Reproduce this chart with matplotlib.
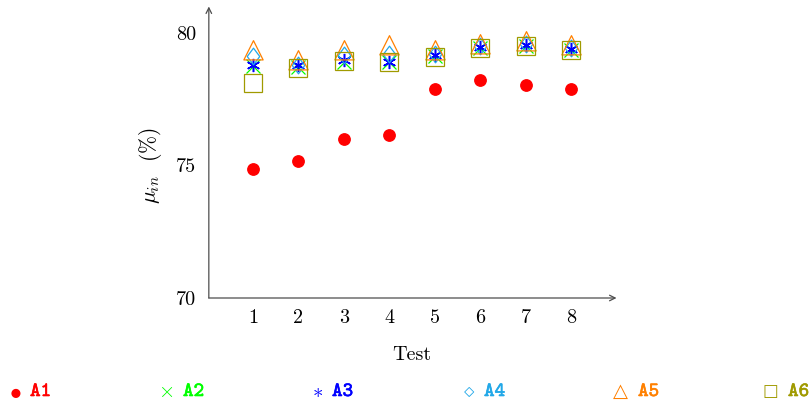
import matplotlib
matplotlib.use("Agg")
import matplotlib.pyplot as plt
import matplotlib.patheffects as pe
from matplotlib.path import Path
import numpy as np

tests = [1, 2, 3, 4, 5, 6, 7, 8]
A1 = [74.87, 75.18, 75.99, 76.14, 77.88, 78.21, 78.02, 77.88]
A2 = [78.75, 78.72, 78.92, 78.90, 79.12, 79.43, 79.52, 79.36]
A3 = [78.78, 78.78, 78.98, 78.92, 79.16, 79.48, 79.55, 79.40]
A4 = [79.15, 78.80, 79.16, 79.22, 79.20, 79.50, 79.58, 79.42]
A5 = [79.25, 78.88, 79.26, 79.42, 79.23, 79.48, 79.57, 79.45]
A6 = [78.12, 78.69, 78.96, 78.89, 79.10, 79.44, 79.52, 79.37]
series_names = ["A1", "A2", "A3", "A4", "A5", "A6"]
xticks = [1, 2, 3, 4, 5, 6, 7, 8]
yticks = [70, 75, 80]

plt.rcParams['mathtext.fontset'] = 'cm'
plt.rcParams['font.family'] = ['cmr10', 'DejaVu Serif']
plt.rcParams['axes.formatter.use_mathtext'] = True

c_red = '#ff0000'
c_green = '#00ff00'
c_blue = '#0000ff'
c_cyan = '#22a8e8'
c_orange = '#ff8000'
c_olive = '#a09a00'

tri = Path([(0, 2/3), (-0.5, -1/3), (0.5, -1/3), (0, 2/3)],
           [Path.MOVETO, Path.LINETO, Path.LINETO, Path.CLOSEPOLY])
dia = Path([(0, 1), (0.75, 0), (0, -1), (-0.75, 0), (0, 1)],
           [Path.MOVETO, Path.LINETO, Path.LINETO, Path.LINETO, Path.CLOSEPOLY])

fig = plt.figure(figsize=(8.11, 4.08), dpi=100)
W, H = 811, 408
x0px, x9px = 207.6, 616.5
ytop = 6.5
ybot = 298
ax = fig.add_axes([x0px / W, (H - ybot) / H, (x9px - x0px) / W, (ybot - ytop) / H])
ax.set_xlim(0, 9)
ax.set_ylim(70, 70 + (ybot - ytop) / 26.5)

lw = 0.9
ax.plot(tests, A1, ls='none', marker='o', ms=8.2, color=c_red, mec=c_red)
ax.plot(tests, A2, ls='none', marker='x', ms=10.5, color=c_green, mew=lw)
ax.plot(tests, A3, ls='none', marker=(6, 2, 0), ms=9.5, color=c_blue, mew=lw + 0.2)
ax.plot(tests, A4, ls='none', marker=dia, ms=12, mfc='none', mec=c_cyan, mew=lw)
ax.plot(tests, A5, ls='none', marker=tri, ms=18.5, mfc='none', mec=c_orange, mew=lw)
ax.plot(tests, A6, ls='none', marker='s', ms=13, mfc='none', mec=c_olive, mew=lw)

for s in ax.spines.values():
    s.set_visible(False)
acol = '0.3'
ax.annotate('', xy=(1, 0), xytext=(0.003, 0), xycoords='axes fraction',
            arrowprops=dict(arrowstyle='->', color=acol, lw=0.9, shrinkA=0, shrinkB=0))
ax.annotate('', xy=(0.003, 1), xytext=(0.003, 0), xycoords='axes fraction',
            arrowprops=dict(arrowstyle='->', color=acol, lw=0.9, shrinkA=0, shrinkB=0))

ax.set_xticks(xticks)
ax.set_yticks(yticks)
ax.set_xticklabels([str(t) for t in xticks])
ax.set_yticklabels([str(t) for t in yticks])
ax.tick_params(length=0, labelsize=14.5)
ax.tick_params(axis='x', pad=8)
ax.tick_params(axis='y', pad=8)

fig.text(150 / W, 1 - 166 / H, r'$\mu_{in}\ $ (%)', rotation=90, ha='center', va='center', fontsize=15.5)
fig.text(412 / W, 1 - 355 / H, 'Test', ha='center', va='center', fontsize=14.5)

syms = [r'$\bullet$', r'$\times$', r'$\ast$', r'$\diamond$', '\u25b3', '\u25a1']
cols = [c_red, c_green, c_blue, c_cyan, c_orange, c_olive]
sym_x = [15, 166, 318, 469, 620, 770]
txt_x = [30, 183, 332, 484, 638, 788]
sym_sz = [17, 15, 15, 15, 14, 12]
for i, (sx, tx, s, name, c) in enumerate(zip(sym_x, txt_x, syms, series_names, cols)):
    if i >= 4:
        fig.text(sx / W, 1 - 391 / H, s, color=c, ha='center', va='center', fontsize=sym_sz[i],
                 family=['DejaVu Sans'])
    else:
        fig.text(sx / W, 1 - 392 / H, s, color=c, ha='center', va='center', fontsize=sym_sz[i])
    fig.text(tx / W, 1 - 392 / H, name, color=c, ha='left', va='center', fontsize=14.5,
             family=['cmtt10', 'DejaVu Sans Mono'],
             path_effects=[pe.withStroke(linewidth=0.45, foreground=c)])

fig.savefig('out.png', dpi=100)
